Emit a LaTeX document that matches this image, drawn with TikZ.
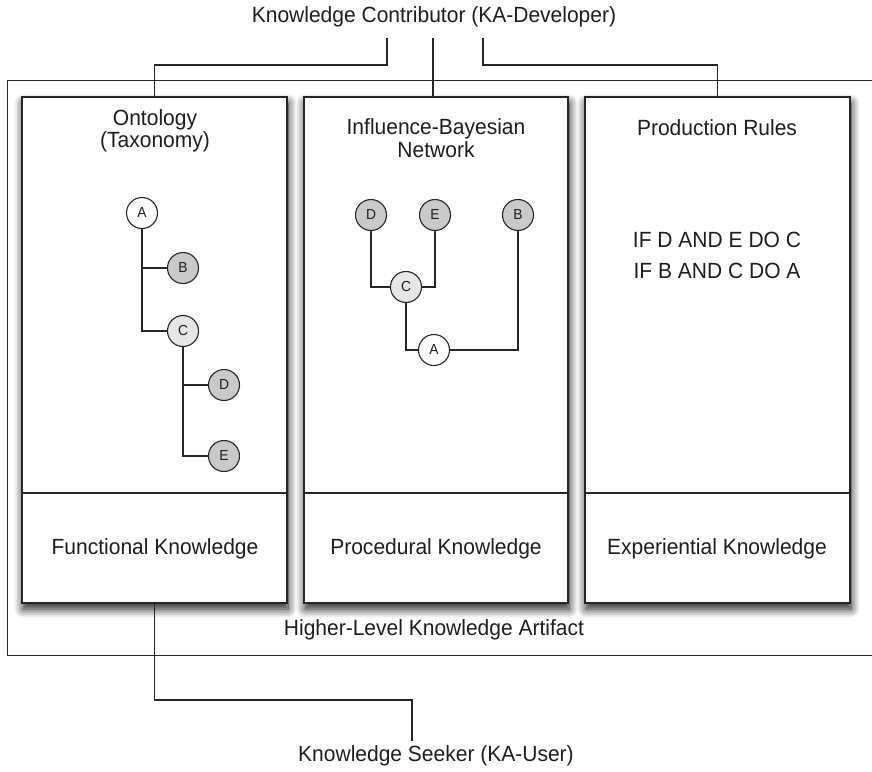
\documentclass[tikz,border=0pt]{standalone}
\usepackage{fontspec}
\setmainfont[FakeStretch=0.955]{Liberation Sans}
\usetikzlibrary{shadows.blur,calc}
\definecolor{edge}{HTML}{262626}
\definecolor{leafgray}{HTML}{C9C9C9}
\definecolor{midgray}{HTML}{E6E6E6}
\definecolor{inktext}{HTML}{1E1E1E}

\begin{document}
\begin{tikzpicture}[x=1pt,y=-1pt,
  every node/.style={font=\fontsize{22}{22.5}\selectfont, text=inktext},
  outerbox/.style={draw=edge, line width=1.4pt, inner sep=0pt, anchor=north west},
  panel/.style={draw=edge, line width=1.5pt, fill=white, inner sep=0pt,
    blur shadow={shadow xshift=1pt, shadow yshift=-6pt, shadow blur radius=9pt,
      shadow blur steps=12, shadow opacity=90}},
  label/.style={align=center, inner sep=1pt},
  vertex/.style={circle, draw=edge, line width=1.1pt, minimum size=31pt, inner sep=0pt,
    font=\fontsize{14.5}{15}\selectfont},
  rootv/.style={vertex, fill=white},
  midv/.style={vertex, fill=midgray},
  leafv/.style={vertex, fill=leafgray},
  link/.style={draw=edge, line width=1.3pt}
]
\path[use as bounding box, clip] (0,0) rectangle (872,771);

% enclosing artifact frame (runs past the right edge)
\node[outerbox, minimum width=880pt, minimum height=575pt] (artifact) at (7,80) {};

% three knowledge panels
\node[panel, minimum width=265pt, minimum height=506pt] (p1) at (154.5,350) {};
\node[panel, minimum width=264pt, minimum height=506pt] (p2) at (436,350) {};
\node[panel, minimum width=265pt, minimum height=506pt] (p3) at (717.5,350) {};
\foreach \p in {p1,p2,p3}
  \draw[link, line width=1.5pt] (\p.west |- 0,493) -- (\p.east |- 0,493);

% texts
\node[label] (contrib) at (434,17) {Knowledge Contributor (KA-Developer)};
\node[label] (onto) at (155,131) {Ontology\\(Taxonomy)};
\node[label] (ibn) at (436,138) {Influence-Bayesian\\Network};
\node[label] (prod) at (717,128) {Production Rules};
\node[label] (rule1) at (717,240) {IF D AND E DO C};
\node[label] (rule2) at (717,271) {IF B AND C DO A};
\node[label] (func) at (155,549) {Functional Knowledge};
\node[label] (proc) at (436,549) {Procedural Knowledge};
\node[label] (expe) at (717,549) {Experiential Knowledge};
\node[label] (hlka) at (434,630) {Higher-Level Knowledge Artifact};
\node[label] (seeker) at (436,756) {Knowledge Seeker (KA-User)};

% ontology tree
\node[rootv] (oA) at (142,213) {A};
\node[leafv] (oB) at (183,268) {B};
\node[midv]  (oC) at (183,331) {C};
\node[leafv] (oD) at (224,385) {D};
\node[leafv] (oE) at (224,456) {E};
\draw[link] (oA.south) |- (oC.west);
\draw[link] (oA.south |- oB) -- (oB.west);
\draw[link] (oC.south) |- (oE.west);
\draw[link] (oC.south |- oD) -- (oD.west);

% influence network
\node[leafv] (nD) at (371,215) {D};
\node[leafv] (nE) at (435,215) {E};
\node[leafv] (nB) at (518,215) {B};
\node[midv]  (nC) at (406,287) {C};
\node[rootv] (nA) at (434,350) {A};
\draw[link] (nD.south) |- (nC.west);
\draw[link] (nE.south) |- (nC.east);
\draw[link] (nC.south) |- (nA.west);
\draw[link] (nA.east) -| (nB.south);

% contributor and seeker connectors
\coordinate (kc1) at (387,38);
\coordinate (kc2) at (433,38);
\coordinate (kc3) at (483,38);
\coordinate (ks) at (412,741);
\draw[link] (kc1) -- (kc1 |- 0,65) -| (p1.north);
\draw[link] (kc2) -- (kc2 |- p2.north);
\draw[link] (kc3) -- (kc3 |- 0,65) -| (p3.north);
\draw[link] (p1.south) -- (p1.south |- 0,700) -| (ks);
\end{tikzpicture}
\end{document}
